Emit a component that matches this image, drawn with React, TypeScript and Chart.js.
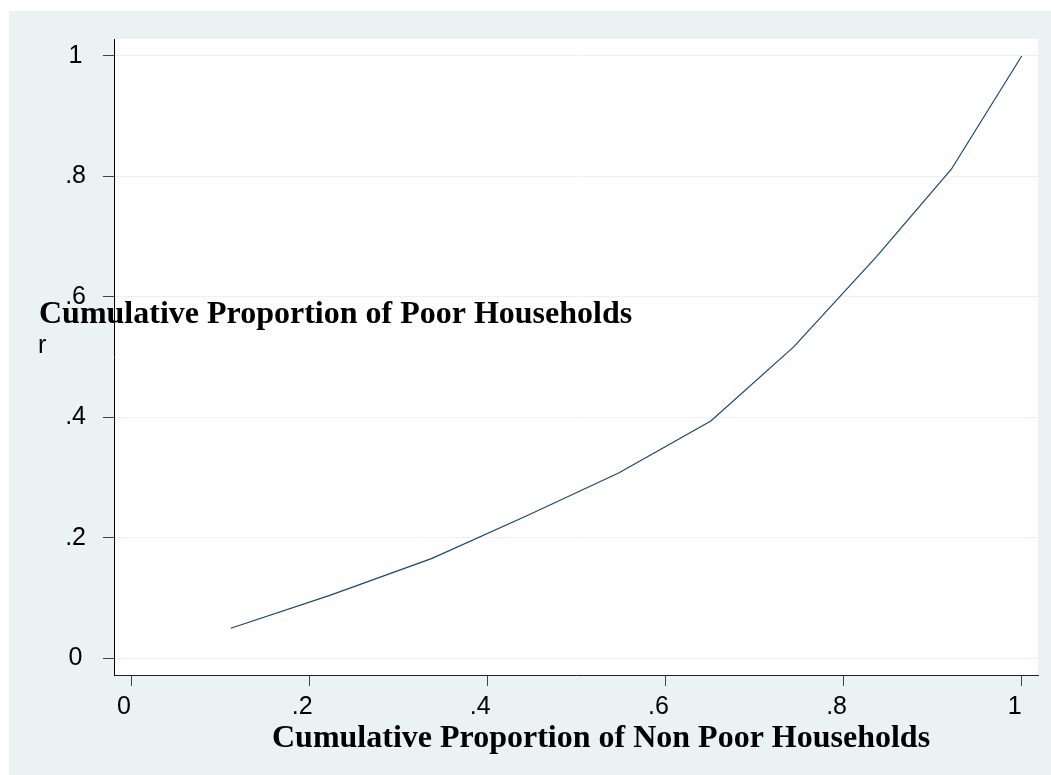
import React, { useEffect, useRef } from "react";
import { Chart, registerables } from "chart.js";

Chart.register(...registerables);

// Data
const X_VALUES = [0.112, 0.224, 0.338, 0.445, 0.548, 0.651, 0.744, 0.837, 0.921, 1.0];
const Y_VALUES = [0.05, 0.105, 0.166, 0.237, 0.308, 0.394, 0.517, 0.667, 0.812, 1.0];
const TICK_VALUES = [0, 0.2, 0.4, 0.6, 0.8, 1];
const TICK_LABELS = ["0", ".2", ".4", ".6", ".8", "1"];
const X_TITLE = "Cumulative Proportion of Non Poor Households";
const Y_TITLE = "Cumulative Proportion of Poor Households";
const Y_TITLE_EXTRA = "r";

const BG = "#eaf2f3";
const LINE = "#1a476f";
const TICK_FONT = { family: "'Liberation Sans', Arial, sans-serif", size: 25 };

const framePlugin = {
  id: "frame",
  beforeDraw(chart: any) {
    const { ctx, width, height, chartArea } = chart;
    ctx.save();
    ctx.fillStyle = "#ffffff";
    ctx.fillRect(0, 0, width, height);
    ctx.fillStyle = BG;
    ctx.fillRect(9, 11, width - 9, height - 11);
    ctx.fillStyle = "#ffffff";
    ctx.fillRect(
      chartArea.left,
      chartArea.top,
      chartArea.right - chartArea.left,
      chartArea.bottom - chartArea.top
    );
    ctx.restore();
  },
  afterDraw(chart: any) {
    const { ctx } = chart;
    ctx.save();
    ctx.fillStyle = "#000000";
    ctx.textAlign = "left";
    ctx.textBaseline = "alphabetic";
    ctx.font = "bold 32px 'Liberation Serif', 'Times New Roman', serif";
    ctx.fillText(X_TITLE, 272, 747);
    ctx.fillText(Y_TITLE, 39, 323);
    ctx.font = "25px 'Liberation Sans', Arial, sans-serif";
    ctx.fillText(Y_TITLE_EXTRA, 38, 353);
    ctx.restore();
  },
};

export default function App() {
  const ref = useRef<HTMLCanvasElement | null>(null);

  useEffect(() => {
    if (!ref.current) return;
    const chart = new Chart(ref.current, {
      type: "line",
      data: {
        datasets: [
          {
            data: X_VALUES.map((x, i) => ({ x, y: Y_VALUES[i] })),
            borderColor: LINE,
            borderWidth: 1.2,
            pointRadius: 0,
            fill: false,
            tension: 0,
          },
        ],
      },
      options: {
        responsive: false,
        animation: false,
        devicePixelRatio: 1,
        layout: { padding: { left: 0, top: 39, right: 13, bottom: 0 } },
        plugins: {
          legend: { display: false },
          tooltip: { enabled: false },
          title: { display: false },
        },
        scales: {
          x: {
            type: "linear",
            min: -0.0191,
            max: 1.0183,
            afterBuildTicks: (s: any) => {
              s.ticks = TICK_VALUES.map((v) => ({ value: v }));
            },
            afterFit: (s: any) => {
              s.height = 100;
            },
            grid: {
              display: true,
              drawOnChartArea: false,
              drawTicks: true,
              tickLength: 11,
              tickColor: "#444444",
              tickWidth: 1,
            },
            border: { display: true, color: "#222222", width: 1 },
            ticks: {
              font: TICK_FONT,
              color: "#000000",
              padding: 6,
              labelOffset: -7,
              maxRotation: 0,
              autoSkip: false,
              callback: (_v: any, i: number) => TICK_LABELS[i],
            },
          },
          y: {
            type: "linear",
            min: -0.0277,
            max: 1.0282,
            afterBuildTicks: (s: any) => {
              s.ticks = TICK_VALUES.map((v) => ({ value: v }));
            },
            afterFit: (s: any) => {
              s.width = 114;
            },
            grid: {
              display: true,
              drawOnChartArea: true,
              drawTicks: true,
              color: BG,
              lineWidth: 1,
              tickLength: 11,
              tickColor: "#444444",
              tickWidth: 1,
            },
            border: { display: true, color: "#000000", width: 1 },
            ticks: {
              font: TICK_FONT,
              color: "#000000",
              padding: 17,
              crossAlign: "center",
              autoSkip: false,
              callback: (_v: any, i: number) => TICK_LABELS[i],
            },
          },
        },
      },
      plugins: [framePlugin],
    } as any);
    return () => chart.destroy();
  }, []);

  return (
    <canvas
      ref={ref}
      width={1051}
      height={775}
      style={{ position: "absolute", left: 0, top: 0, width: 1051, height: 775 }}
    />
  );
}
